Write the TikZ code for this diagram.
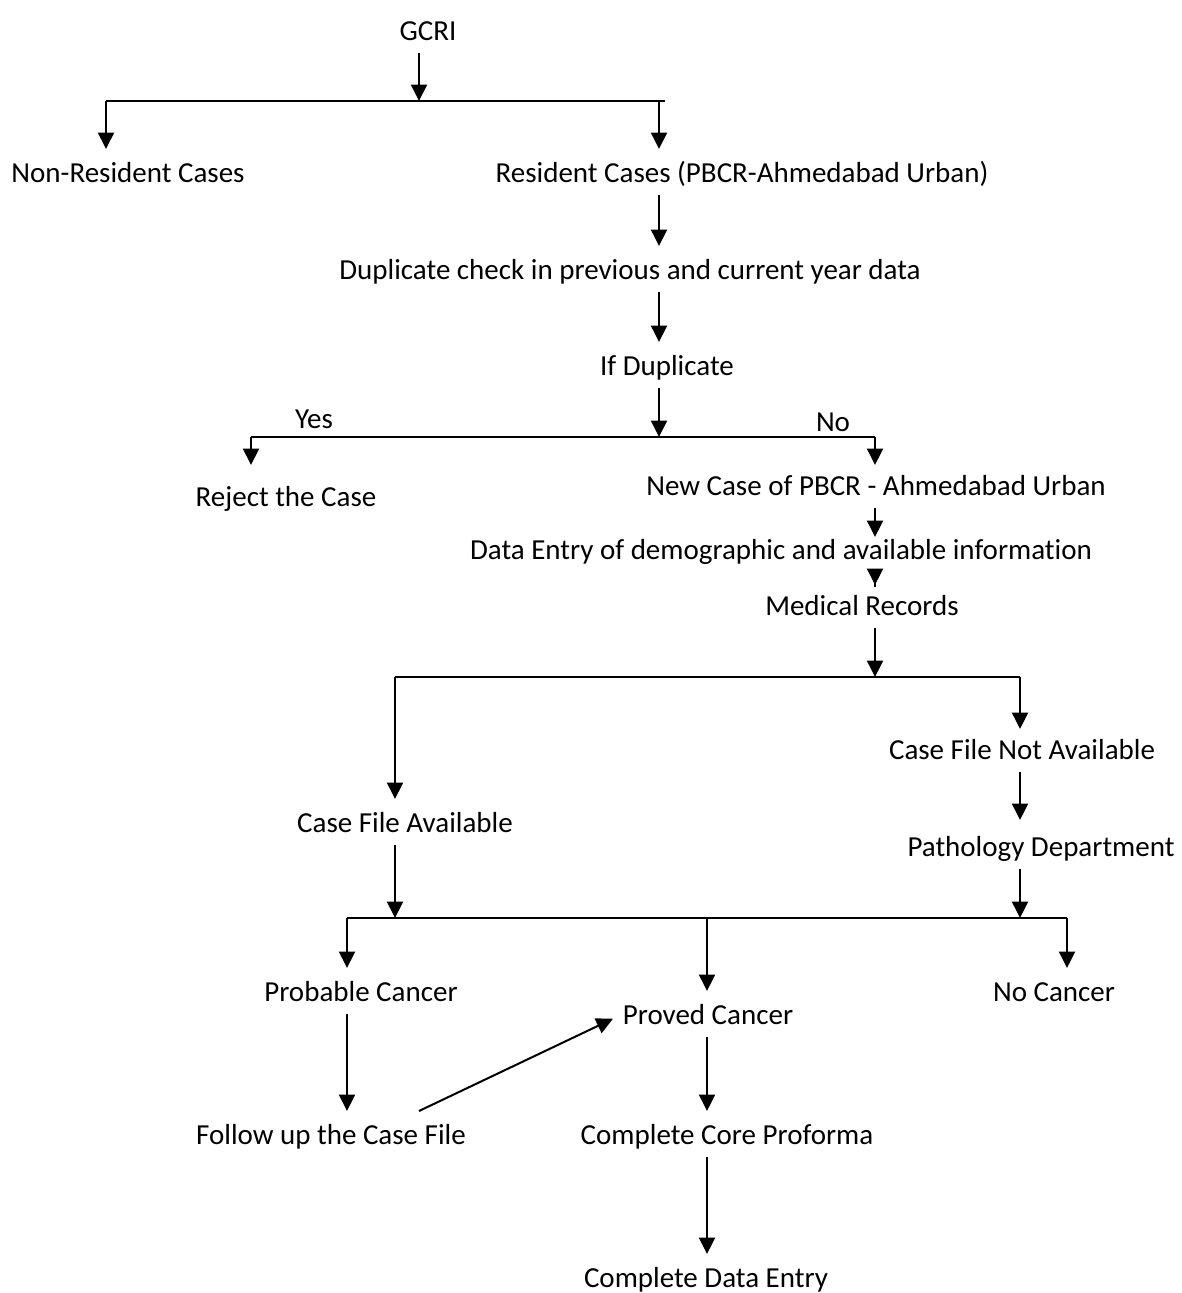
\documentclass[tikz,border=0pt]{standalone}
\usepackage{fontspec}
\setmainfont{Carlito}[Ligatures=NoCommon]
\usetikzlibrary{arrows.meta}
\begin{document}
\begin{tikzpicture}[x=1pt,y=-1pt,
  lbl/.style={anchor=base, font=\fontsize{29}{34}\selectfont, inner xsep=0pt, inner ysep=7pt, text height=26pt, text depth=6pt, outer sep=0pt},
  arr/.style={line width=2pt, -{Triangle[width=16pt,length=16.5pt]}},
  ln/.style={line width=2pt}]
\useasboundingbox (0,0) rectangle (1181,1293);

% nodes
\node[lbl] (gcri) at (428,40) {GCRI};
\node[lbl] (nonres) at (128,182) {Non-Resident Cases};
\node[lbl] (res) at (742,182) {Resident Cases (PBCR-Ahmedabad Urban)};
\node[lbl] (dup) at (630,279) {Duplicate check in previous and current year data};
\node[lbl] (ifdup) at (667,375) {If Duplicate};
\node[lbl] (yes) at (314,428) {Yes};
\node[lbl] (no) at (833,431) {No};
\node[lbl] (reject) at (286,506) {Reject the Case};
\node[lbl] (newcase) at (876,495) {New Case of PBCR - Ahmedabad Urban};
\node[lbl] (dentry) at (781,559) {Data Entry of demographic and available information};
\node[lbl] (medical) at (862,615) {Medical Records};
\node[lbl] (cfna) at (1022,759) {Case File Not Available};
\node[lbl] (cfa) at (405,832) {Case File Available};
\node[lbl] (path) at (1041,856) {Pathology Department};
\node[lbl] (probable) at (361,1001) {Probable Cancer};
\node[lbl] (nocancer) at (1054,1001) {No Cancer};
\node[lbl] (proved) at (708,1024) {Proved Cancer};
\node[lbl] (follow) at (331,1144) {Follow up the Case File};
\node[lbl] (core) at (727,1144) {Complete Core Proforma};
\node[lbl] (cde) at (706,1287) {Complete Data Entry};

% junction coordinates
\coordinate (j1) at (419,101);
\coordinate (l1a) at (106,101);
\coordinate (l1b) at (665,101);
\coordinate (xr) at (659,101);
\coordinate (j2) at (659,437);
\coordinate (l2a) at (251,437);
\coordinate (l2b) at (875,437);
\coordinate (j3) at (875,677);
\coordinate (l3a) at (395,677);
\coordinate (l3b) at (1020,677);
\coordinate (j4l) at (395,918);
\coordinate (j4r) at (1020,918);
\coordinate (l4a) at (347,918);
\coordinate (l4m) at (707,918);
\coordinate (l4b) at (1067,918);
\coordinate (dg) at (419,1115);

% top branch
\draw[arr] (gcri.south -| j1) -- (j1);
\draw[ln] (l1a) -- (l1b);
\draw[arr] (l1a) -- (nonres.north -| l1a);
\draw[arr] (xr) -- (res.north -| xr);
\draw[arr] (res.south -| xr) -- (dup.north -| xr);
\draw[arr] (dup.south -| xr) -- (ifdup.north -| xr);

% duplicate branch
\draw[arr] (ifdup.south -| j2) -- (j2);
\draw[ln] (l2a) -- (l2b);
\draw[arr, shorten >=8pt] (l2a) -- (reject.north -| l2a);
\draw[arr, shorten >=-3pt] (l2b) -- (newcase.north -| l2b);
\draw[arr, shorten >=-11pt] (newcase.south -| l2b) -- (dentry.north -| l2b);
\draw[arr, shorten <=-15pt, shorten >=-3pt] (dentry.south -| l2b) -- (medical.north -| l2b);

% medical records branch
\draw[arr] (medical.south -| j3) -- (j3);
\draw[ln] (l3a) -- (l3b);
\draw[arr] (l3a) -- (cfa.north -| l3a);
\draw[arr, shorten >=-3pt] (l3b) -- (cfna.north -| l3b);
\draw[arr, shorten >=3pt] (cfna.south -| l3b) -- (path.north -| l3b);
\draw[arr] (cfa.south -| j4l) -- (j4l);
\draw[arr] (path.south -| j4r) -- (j4r);

% outcome branch
\draw[ln] (l4a) -- (l4b);
\draw[arr] (l4a) -- (probable.north -| l4a);
\draw[arr] (l4m) -- (proved.north -| l4m);
\draw[arr] (l4b) -- (nocancer.north -| l4b);
\draw[arr] (probable.south -| l4a) -- (follow.north -| l4a);
\draw[arr, shorten >=11pt] (follow.north -| dg) -- (proved.west);
\draw[arr] (proved.south -| l4m) -- (core.north -| l4m);
\draw[arr] (core.south -| l4m) -- (cde.north -| l4m);
\end{tikzpicture}
\end{document}
